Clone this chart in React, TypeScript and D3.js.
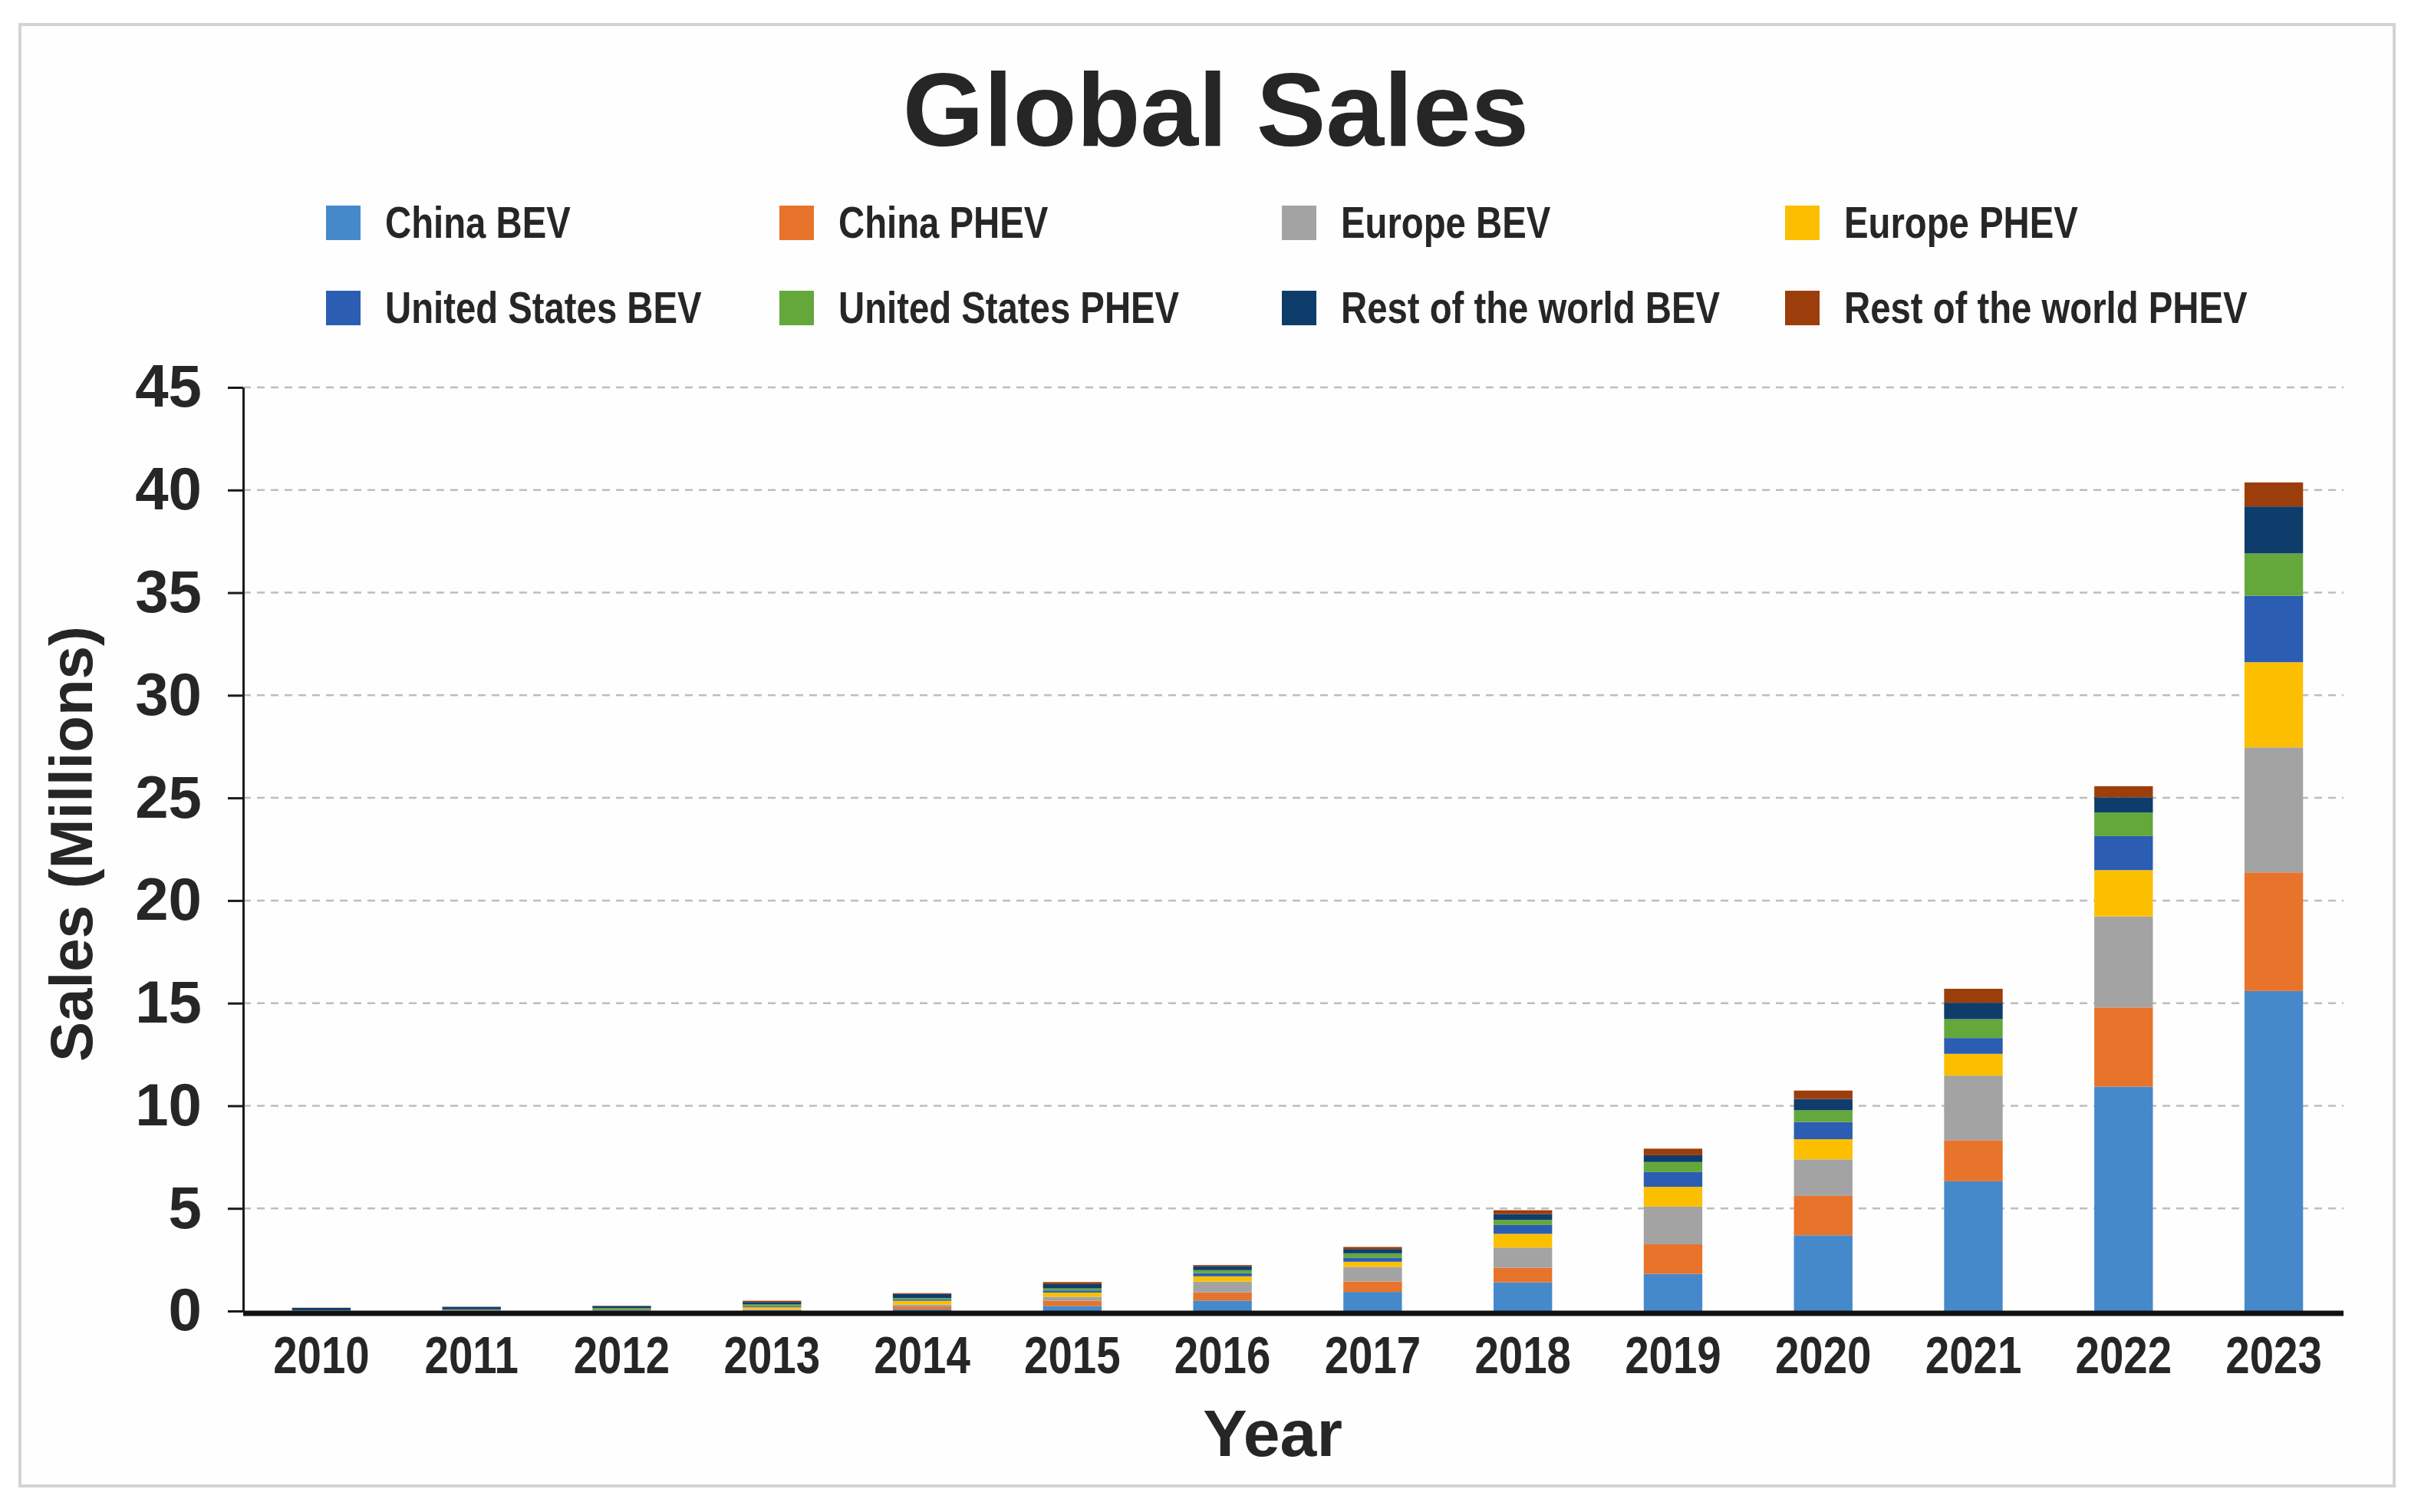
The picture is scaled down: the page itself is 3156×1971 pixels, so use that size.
import { useEffect, useMemo, useRef } from 'react';
import * as d3 from 'd3';

const WIDTH = 3156;
const HEIGHT = 1971;
const PLOT = { left: 317, right: 3055, top: 505, bottom: 1709 };

const years = ['2010', '2011', '2012', '2013', '2014', '2015', '2016', '2017', '2018', '2019', '2020', '2021', '2022', '2023'];

const seriesNames = [
  'China BEV',
  'China PHEV',
  'Europe BEV',
  'Europe PHEV',
  'United States BEV',
  'United States PHEV',
  'Rest of the world BEV',
  'Rest of the world PHEV',
];
const seriesColors = ['#4689cb', '#e8732a', '#a3a3a3', '#fcbf00', '#2b5db3', '#64a83b', '#0f3d6b', '#9c3e0b'];

// sales in millions
const chinaBEV = [0.01, 0.01, 0.01, 0.03, 0.08, 0.25, 0.51, 0.93, 1.4, 1.81, 3.69, 6.32, 10.93, 15.59];
const chinaPHEV = [0, 0.01, 0.01, 0.02, 0.14, 0.25, 0.4, 0.51, 0.71, 1.44, 1.92, 2.0, 3.86, 5.78];
const europeBEV = [0.01, 0.01, 0.02, 0.04, 0.1, 0.19, 0.52, 0.71, 0.98, 1.84, 1.78, 3.15, 4.43, 6.09];
const europePHEV = [0, 0.01, 0.01, 0.1, 0.18, 0.21, 0.26, 0.25, 0.67, 0.96, 0.98, 1.06, 2.26, 4.15];
const usBEV = [0.01, 0.02, 0.03, 0.05, 0.07, 0.1, 0.15, 0.2, 0.43, 0.72, 0.84, 0.77, 1.66, 3.24];
const usPHEV = [0.01, 0.02, 0.07, 0.08, 0.06, 0.1, 0.15, 0.21, 0.25, 0.49, 0.57, 0.92, 1.15, 2.06];
const rowBEV = [0.11, 0.12, 0.09, 0.12, 0.2, 0.21, 0.2, 0.21, 0.29, 0.33, 0.55, 0.8, 0.74, 2.29];
const rowPHEV = [0.01, 0.01, 0.02, 0.06, 0.04, 0.1, 0.05, 0.1, 0.18, 0.32, 0.41, 0.68, 0.54, 1.17];

const yTicks = [0, 5, 10, 15, 20, 25, 30, 35, 40, 45];

const seriesValues = [chinaBEV, chinaPHEV, europeBEV, europePHEV, usBEV, usPHEV, rowBEV, rowPHEV];

const FONT = '"Liberation Sans", Arial, Helvetica, sans-serif';
const INK = '#262626';
// no narrow face installed, so squeeze the regular bold horizontally
const SQUEEZE = 0.83;

export default function App() {
  const yAxisRef = useRef<SVGGElement>(null);

  // one row per year, keyed by series name, for d3.stack
  const table = useMemo(
    () =>
      years.map((year, i) => {
        const row: Record<string, number | string> = { year };
        seriesNames.forEach((name, s) => (row[name] = seriesValues[s][i]));
        return row;
      }),
    []
  );

  const stacked = d3.stack<Record<string, number | string>>().keys(seriesNames)(table as any);

  const xScale = d3
    .scaleBand()
    .domain(years)
    .range([323, 3060])
    .paddingInner(0.61)
    .paddingOuter(0.295);

  const yScale = d3.scaleLinear().domain([0, 45]).range([PLOT.bottom, PLOT.top]);

  const color = d3.scaleOrdinal<string, string>().domain(seriesNames).range(seriesColors);

  useEffect(() => {
    const g = d3.select(yAxisRef.current);
    g.selectAll('*').remove();
    g.call(d3.axisLeft(yScale).tickValues(yTicks).tickSize(20).tickPadding(34).tickSizeOuter(0));
    g.select('.domain').attr('stroke', '#1a1a1a').attr('stroke-width', 3);
    g.selectAll('.tick line').attr('stroke', '#1a1a1a').attr('stroke-width', 3);
    g.selectAll('.tick text')
      .attr('fill', INK)
      .style('font-family', FONT)
      .style('font-weight', 'bold')
      .style('font-size', '78px');
  }, []);

  const legendX = [425, 1016, 1671, 2327];
  const legendY = [268, 379];

  return (
    <svg
      width={WIDTH}
      height={HEIGHT}
      style={{ position: 'absolute', left: 0, top: 0, background: '#fff' }}
    >
      <rect x={0} y={0} width={WIDTH} height={HEIGHT} fill="#ffffff" />
      <rect x={26} y={32} width={3095} height={1905} fill="#fefefe" stroke="#d3d3d3" strokeWidth={4} />

      {/* title */}
      <text
        x={1585}
        y={190}
        textAnchor="middle"
        fill={INK}
        style={{ fontFamily: FONT, fontWeight: 'bold', fontSize: 136 }}
      >
        Global Sales
      </text>

      {/* legend, 4 columns x 2 rows */}
      {seriesNames.map((name, i) => {
        const lx = legendX[i % 4];
        const ly = legendY[Math.floor(i / 4)];
        return (
          <g key={name} transform={`translate(${lx},${ly})`}>
            <rect width={45} height={45} fill={color(name)} />
            <text
              transform={`translate(77,42) scale(${SQUEEZE},1)`}
              fill={INK}
              style={{ fontFamily: FONT, fontWeight: 'bold', fontSize: 57 }}
            >
              {name}
            </text>
          </g>
        );
      })}

      {/* grid */}
      {yTicks
        .filter((t) => t > 0)
        .map((t) => (
          <line
            key={t}
            x1={PLOT.left}
            x2={PLOT.right}
            y1={yScale(t)}
            y2={yScale(t)}
            stroke="#bdbdbd"
            strokeWidth={2.5}
            strokeDasharray="10 8"
          />
        ))}

      {/* bars */}
      {stacked.map((layer) => (
        <g key={layer.key} fill={color(layer.key)}>
          {layer.map((d, i) => (
            <rect
              key={years[i]}
              x={xScale(years[i])}
              y={yScale(d[1])}
              width={xScale.bandwidth()}
              height={Math.max(0, yScale(d[0]) - yScale(d[1]))}
            />
          ))}
        </g>
      ))}

      {/* y axis */}
      <g ref={yAxisRef} transform={`translate(${PLOT.left},0)`} />

      {/* x axis */}
      <line x1={PLOT.left} x2={PLOT.right} y1={PLOT.bottom + 3} y2={PLOT.bottom + 3} stroke="#111" strokeWidth={7} />
      {years.map((year) => (
        <text
          key={year}
          transform={`translate(${(xScale(year) ?? 0) + xScale.bandwidth() / 2},1790) scale(${SQUEEZE},1)`}
          textAnchor="middle"
          fill={INK}
          style={{ fontFamily: FONT, fontWeight: 'bold', fontSize: 68 }}
        >
          {year}
        </text>
      ))}

      {/* axis titles */}
      <text
        x={1659}
        y={1898}
        textAnchor="middle"
        fill={INK}
        style={{ fontFamily: FONT, fontWeight: 'bold', fontSize: 86 }}
      >
        Year
      </text>
      <text
        transform="translate(120,1100) rotate(-90)"
        textAnchor="middle"
        fill={INK}
        style={{ fontFamily: FONT, fontWeight: 'bold', fontSize: 78 }}
      >
        Sales (Millions)
      </text>
    </svg>
  );
}
